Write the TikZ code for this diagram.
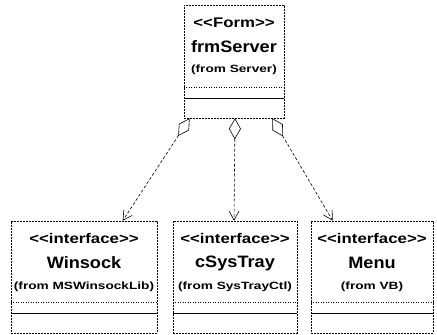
\documentclass[tikz,border=0pt]{standalone}
\usepackage{fontspec}
\setmainfont{Liberation Sans}
\newfontfamily\stfont[FakeStretch=1.2]{Liberation Sans}
\newfontfamily\frfont[FakeStretch=1.3]{Liberation Sans}
\newfontfamily\nmfont[FakeStretch=1.1]{Liberation Sans}
\usetikzlibrary{arrows.meta}
\tikzset{
  umlbox/.style={draw, line width=0.6pt, dash pattern=on 2pt off 1pt, inner sep=0pt},
  stereo/.style={font=\stfont\bfseries\fontsize{14}{15}\selectfont, inner sep=0pt},
  cname/.style={font=\nmfont\bfseries\fontsize{16.5}{18}\selectfont, inner sep=0pt},
  from/.style={font=\frfont\bfseries\fontsize{10.5}{12}\selectfont, inner sep=0pt},
  dotsep/.style={line width=0.5pt, dotted},
  solsep/.style={line width=0.7pt},
  aggr/.style={line width=0.6pt, dash pattern=on 3pt off 2pt,
    {Diamond[open,length=21pt,width=12pt,line width=0.6pt]}-{Straight Barb[length=9pt,width=10pt,line width=0.6pt]}}
}
\begin{document}
\begin{tikzpicture}[x=1pt,y=-1pt]
\useasboundingbox (0,0) rectangle (437,335);
% top class
\node[umlbox, minimum width=100pt, minimum height=113pt] (top) at (234,61.5) {};
\node[stereo] (topst) at (234,23) {<<Form>>};
\node[cname] (topnm) at (234,47) {frmServer};
\node[from] (topfr) at (234,70) {(from Server)};
\draw[dotsep] (top.west |- 0,87) -- (top.east |- 0,87);
\draw[solsep] (top.west |- 0,98) -- (top.east |- 0,98);
% bottom classes
\node[umlbox, minimum width=146pt, minimum height=112pt] (win) at (84,277) {};
\node[umlbox, minimum width=124pt, minimum height=112pt] (sys) at (235,277) {};
\node[umlbox, minimum width=122pt, minimum height=112pt] (menu) at (372,277) {};
\node[stereo] (winst) at (84,238) {<<interface>>};
\node[cname] (winnm) at (84,263) {Winsock};
\node[from] (winfr) at (84,287) {(from MSWinsockLib)};
\node[stereo] (sysst) at (235,238) {<<interface>>};
\node[cname] (sysnm) at (235,263) {cSysTray};
\node[from] (sysfr) at (235,287) {(from SysTrayCtl)};
\node[stereo] (menust) at (372,238) {<<interface>>};
\node[cname] (menunm) at (372,263) {Menu};
\node[from] (menufr) at (372,287) {(from VB)};
\foreach \b in {win,sys,menu}{
  \draw[dotsep] (\b.west |- 0,302) -- (\b.east |- 0,302);
  \draw[solsep] (\b.west |- 0,313) -- (\b.east |- 0,313);
}
% aggregations
\draw[aggr] ([xshift=6pt]top.south west) -- ([xshift=112pt]win.north west);
\draw[aggr] ([xshift=1pt]top.south) -- ([xshift=-1pt]sys.north);
\draw[aggr] ([xshift=-12pt]top.south east) -- ([xshift=22pt]menu.north west);
\end{tikzpicture}
\end{document}
